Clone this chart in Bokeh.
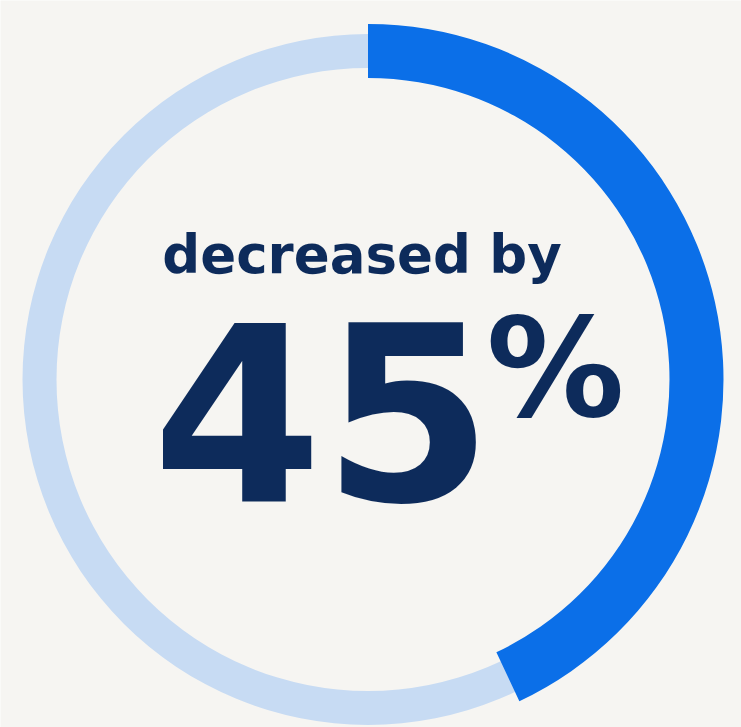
from bokeh.plotting import figure
from bokeh.models import Range1d
from bokeh.embed import file_html
from bokeh.resources import INLINE
from bokeh.core.properties import value
import math

# ---- data ----
segments = ["decreased", "rest"]
shares = [43, 57]          # arc share read from the ring (percent)
headline = "decreased by"
number_label = "45"
percent_sign = "%"

BG = "#f6f5f2"
DARK = "#0b6fe8"
LIGHT = "#c7dbf3"
NAVY = "#0d2b5b"

W, H = 741, 727
p = figure(width=W, height=H, output_backend="svg", toolbar_location=None,
           x_range=Range1d(0, W), y_range=Range1d(0, H),
           min_border=0, background_fill_color=BG, border_fill_color=BG)
p.axis.visible = False
p.grid.visible = False
p.outline_line_color = None

cx, cy = 367.5, H - 379

# light full ring
p.annulus(x=[cx], y=[cy], inner_radius=311.5, outer_radius=345.5,
          fill_color=LIGHT, line_color=None)

# dark arc from 12 o'clock clockwise
start = math.pi / 2
end = start - 2 * math.pi * shares[0] / sum(shares)
p.annular_wedge(x=[cx], y=[cy], inner_radius=301.5, outer_radius=355.5,
                start_angle=[start], end_angle=[end], direction="clock",
                fill_color=DARK, line_color=None)

FONT = value("DejaVu Sans")
K = 0.39  # baseline correction factor


def add_text(x, baseline, txt, size):
    p.text(x=[x], y=[H - baseline + K * size], text=[txt], text_font=FONT,
           text_font_style="bold", text_font_size="%dpx" % size, text_color=NAVY,
           text_align="center", text_baseline="alphabetic")


add_text(361.5, 275, headline, 53)
add_text(322, 507, number_label, 245)
add_text(555, 422, percent_sign, 138)

html = file_html(p, INLINE)
html = html.replace("<body>", '<body style="margin:0;background:%s">' % BG, 1)
open("out.html", "w").write(html)
